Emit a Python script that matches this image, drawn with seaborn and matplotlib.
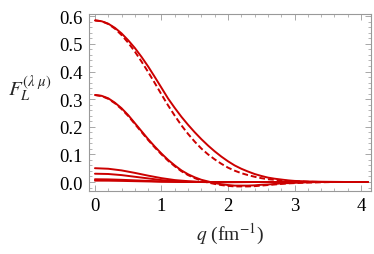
import numpy as np
import matplotlib
matplotlib.use("Agg")
import matplotlib.pyplot as plt
import seaborn as sns

# q grid for the two large form factors (fm^-1)
q_fine = [0.0, 0.1, 0.2, 0.3, 0.4, 0.5, 0.6, 0.7, 0.8, 0.9, 1.0, 1.1, 1.2,
          1.3, 1.4, 1.5, 1.6, 1.7, 1.8, 1.9, 2.0, 2.1, 2.2, 2.3, 2.4, 2.5,
          2.6, 2.7, 2.8, 2.9, 3.0, 3.2, 3.4, 3.6, 3.8, 4.0, 4.1]

f_top_solid = [0.585, 0.582, 0.573, 0.558, 0.538, 0.513, 0.485, 0.453, 0.418,
               0.380, 0.341, 0.302, 0.268, 0.236, 0.207, 0.180, 0.155, 0.132,
               0.111, 0.092, 0.075, 0.060, 0.048, 0.038, 0.029, 0.022, 0.016,
               0.012, 0.009, 0.006, 0.004, 0.002, 0.001, 0.0005, 0.0, 0.0, 0.0]
f_top_dash = [0.585, 0.582, 0.572, 0.555, 0.532, 0.504, 0.472, 0.436, 0.398,
              0.358, 0.317, 0.277, 0.240, 0.205, 0.174, 0.146, 0.121, 0.100,
              0.082, 0.066, 0.052, 0.041, 0.032, 0.025, 0.019, 0.014, 0.010,
              0.008, 0.006, 0.004, 0.003, 0.001, 0.0, 0.0, 0.0, 0.0, 0.0]
f_mid_solid = [0.315, 0.312, 0.303, 0.287, 0.267, 0.242, 0.213, 0.184, 0.155,
               0.128, 0.103, 0.080, 0.060, 0.042, 0.028, 0.017, 0.008, 0.002,
               -0.004, -0.008, -0.011, -0.013, -0.013, -0.013, -0.012, -0.010,
               -0.009, -0.007, -0.005, -0.004, -0.003, -0.001, 0.0, 0.0, 0.0,
               0.0, 0.0]
f_mid_dash = [0.315, 0.311, 0.301, 0.285, 0.264, 0.239, 0.210, 0.181, 0.152,
              0.125, 0.100, 0.077, 0.057, 0.039, 0.025, 0.014, 0.005, -0.002,
              -0.007, -0.011, -0.014, -0.016, -0.016, -0.016, -0.015, -0.013,
              -0.011, -0.009, -0.007, -0.005, -0.004, -0.002, -0.001, 0.0, 0.0,
              0.0, 0.0]

# coarser grid for the small ones
q = [0.0, 0.2, 0.4, 0.6, 0.8, 1.0, 1.2, 1.4, 1.6, 1.8, 2.0, 2.4, 2.8, 3.2,
     3.6, 4.0, 4.1]
f_a = [0.050, 0.048, 0.042, 0.033, 0.023, 0.014, 0.007, 0.003, 0.0, -0.001,
       -0.001, 0.0, 0.0, 0.0, 0.0, 0.0, 0.0]
f_b = [0.030, 0.029, 0.025, 0.019, 0.013, 0.007, 0.003, 0.001, 0.0, 0.0,
       0.0, 0.0, 0.0, 0.0, 0.0, 0.0, 0.0]
f_c = [0.010, 0.0095, 0.008, 0.006, 0.004, 0.002, 0.001, 0.0, 0.0, 0.0,
       0.0, 0.0, 0.0, 0.0, 0.0, 0.0, 0.0]
f_d = [0.005, 0.0048, 0.004, 0.003, 0.002, 0.001, 0.0005, 0.0, 0.0, 0.0,
       0.0, 0.0, 0.0, 0.0, 0.0, 0.0, 0.0]

series = [
    (q_fine, f_top_solid, "-"), (q_fine, f_top_dash, "--"),
    (q_fine, f_mid_solid, "-"), (q_fine, f_mid_dash, "--"),
    (q, f_a, "-"), (q, f_b, "-"), (q, f_c, "-"), (q, f_d, "-"),
]

sns.set_style("ticks")
plt.rcParams["font.family"] = ["Liberation Serif", "DejaVu Serif"]
plt.rcParams["mathtext.fontset"] = "stix"

red = "#cc0000"
frame = "#999999"

fig = plt.figure(figsize=(3.74, 2.55), dpi=100)
ax = fig.add_axes([0.237, 0.247, 0.755, 0.694])

for xs, ys, ls in series:
    line = sns.lineplot(x=xs, y=ys, ax=ax, color=red, lw=1.4, legend=False)
    if ls == "--":
        line.lines[-1].set_dashes((3, 1.5))

ax.set_xlim(-0.095, 4.15)
ax.set_ylim(-0.0326, 0.608)
ax.set_xticks([0, 1, 2, 3, 4])
ax.set_yticks([0.0, 0.1, 0.2, 0.3, 0.4, 0.5, 0.6])
ax.set_xticks(np.arange(0, 4.2, 0.2), minor=True)
ax.set_yticks(np.arange(-0.02, 0.61, 0.02), minor=True)
ax.set_yticklabels([f"{v:.1f}" for v in ax.get_yticks()])

for s in ax.spines.values():
    s.set_color(frame)
    s.set_linewidth(0.8)
ax.tick_params(which="both", direction="in", top=True, right=True,
               color=frame, labelsize=13.5, labelcolor="black")
ax.tick_params(which="major", length=4, width=0.6, pad=4)
ax.tick_params(which="minor", length=2, width=0.5)

ax.set_xlabel(r"$q$ (fm$^{-1}$)", fontsize=14, labelpad=5)
ax.set_ylabel(r"$F_L^{(\lambda\ \mu)}$", fontsize=15, rotation=0)
ax.yaxis.set_label_coords(-0.208, 0.5)

fig.savefig("out.png", dpi=100)
